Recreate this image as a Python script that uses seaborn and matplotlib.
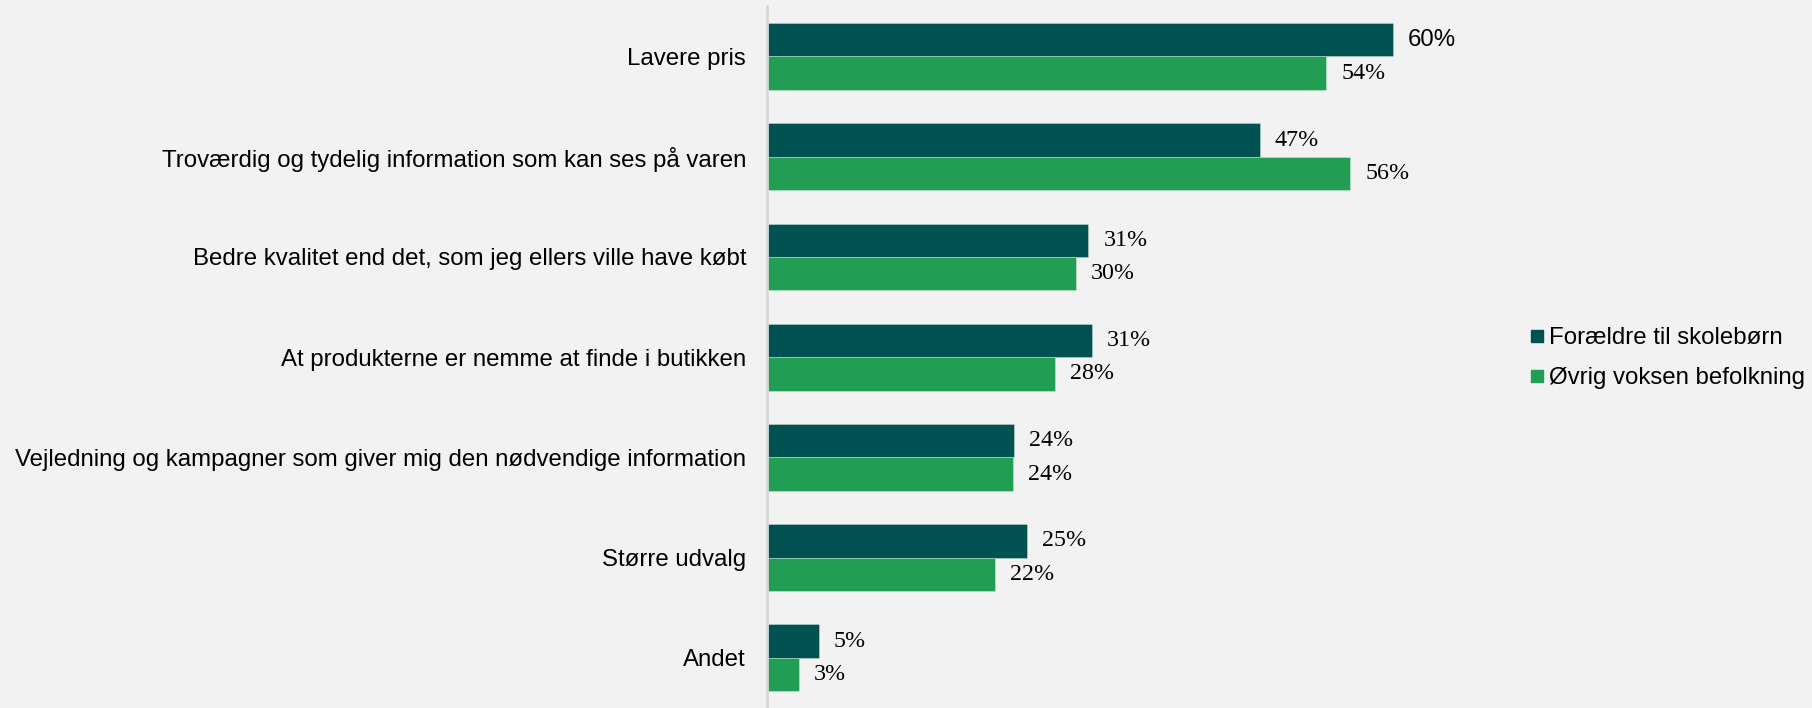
import matplotlib
matplotlib.use("Agg")
import matplotlib.pyplot as plt
from matplotlib.lines import Line2D
import seaborn as sns
import pandas as pd

categories = [
    "Lavere pris",
    "Troværdig og tydelig information som kan ses på varen",
    "Bedre kvalitet end det, som jeg ellers ville have købt",
    "At produkterne er nemme at finde i butikken",
    "Vejledning og kampagner som giver mig den nødvendige information",
    "Større udvalg",
    "Andet",
]
series_names = ["Forældre til skolebørn", "Øvrig voksen befolkning"]
parents = [60.0, 47.2, 30.8, 31.1, 23.7, 24.9, 5.0]
others = [53.6, 55.9, 29.6, 27.6, 23.6, 21.9, 3.1]
colors = ["#005151", "#219E54"]

df = pd.DataFrame({
    "category": categories * 2,
    "series": [series_names[0]] * len(categories) + [series_names[1]] * len(categories),
    "value": parents + others,
})

sns.set_theme(style="white")
plt.rcParams["font.family"] = ["Liberation Sans", "DejaVu Sans"]
plt.rcParams["text.color"] = "#000000"

fig = plt.figure(figsize=(18.12, 7.08), dpi=100, facecolor="#F2F2F2")
ax = fig.add_axes([0.4232, 0.0, 0.4033, 0.991])
ax.set_facecolor("#F2F2F2")

sns.barplot(data=df, y="category", x="value", hue="series", orient="h",
            palette=colors, width=2/3, ax=ax, legend=False, saturation=1,
            order=categories, hue_order=series_names, errorbar=None,
            edgecolor=(1, 1, 1, 0.35), linewidth=0.6)

ax.set_xlim(0, 70)
ax.set_ylim(6.5, -0.5)
ax.set_xlabel("")
ax.set_ylabel("")
ax.set_xticks([])
for s in ["top", "right", "bottom"]:
    ax.spines[s].set_visible(False)
ax.spines["left"].set_color("#D9D9D9")
ax.spines["left"].set_linewidth(2)
ax.tick_params(axis="y", length=0, pad=15, labelsize=17.3, colors="#000000")

for ci, cont in enumerate(ax.containers):
    for bi, bar in enumerate(cont):
        w = bar.get_width()
        y = bar.get_y() + bar.get_height() / 2
        if ci == 0 and bi == 0:
            fam = ["Liberation Sans"]
        else:
            fam = ["Liberation Serif"]
        ax.annotate(f"{int(round(w))}%", xy=(w, y), xytext=(15, 0),
                    textcoords="offset pixels", va="center", ha="left",
                    fontsize=17.3, family=fam, color="#000000")

handles = [Line2D([0], [0], marker="s", linestyle="none", markersize=9,
                  markerfacecolor=c, markeredgecolor=c) for c in colors]
leg = fig.legend(handles, series_names, loc="center left",
                 bbox_to_anchor=(1527 / 1812, 1 - 358 / 708), frameon=False,
                 fontsize=17.3, handletextpad=0.1, labelspacing=0.75,
                 handlelength=0.8, borderaxespad=0, borderpad=0)
for t in leg.get_texts():
    t.set_color("#000000")

fig.savefig("out.png", dpi=100, facecolor="#F2F2F2")
